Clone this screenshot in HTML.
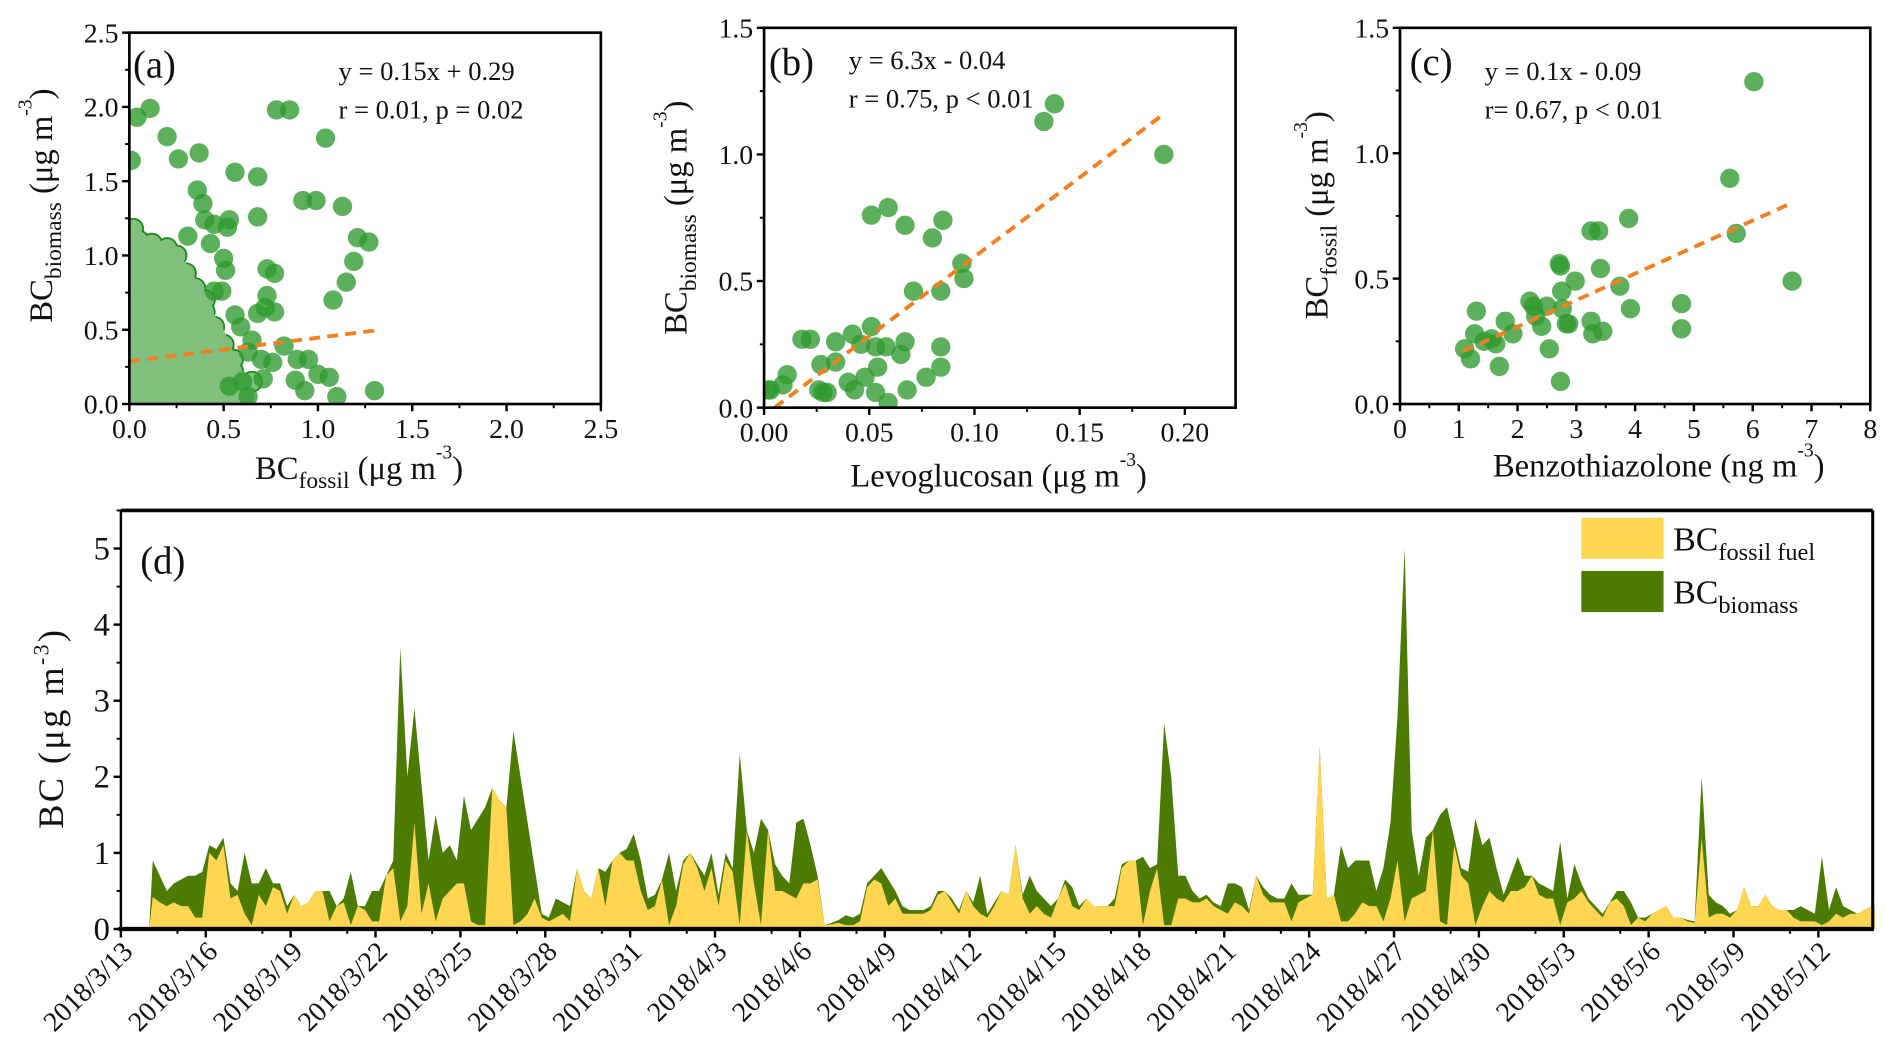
<!DOCTYPE html>
<html><head><meta charset="utf-8"><style>
html,body{margin:0;padding:0;background:#fff;}
svg, svg text{font-family:"Liberation Serif","Times New Roman",serif;}
</style></head><body>
<svg id="fig" width="1886" height="1056" viewBox="0 0 1560 873" preserveAspectRatio="none" font-family="Liberation Serif, serif" xmlns="http://www.w3.org/2000/svg"></svg>
<script>
// ---------- Panel (a) data ----------
const aX = [0.04,0.11,0.01,0.2,0.26,0.37,0.36,0.39,0.4,0.45,0.53,0.52,0.56,0.68,0.68,0.78,0.85,1.04,0.92,0.99,1.13,1.21,1.27,1.19,1.15,1.08,0.31,0.43,0.5,0.51,0.45,0.49,0.73,0.77,0.73,0.68,0.72,0.77,0.56,0.59,0.65,0.63,0.82,0.7,0.76,0.89,0.95,1.0,1.06,1.1,1.3,0.71,0.88,0.93,0.6,0.53,0.63];
const aY = [1.93,1.99,1.64,1.8,1.65,1.69,1.44,1.35,1.24,1.21,1.24,1.19,1.56,1.53,1.26,1.98,1.98,1.79,1.37,1.37,1.33,1.12,1.09,0.96,0.82,0.7,1.13,1.08,0.98,0.9,0.76,0.76,0.91,0.88,0.73,0.61,0.65,0.62,0.6,0.52,0.43,0.35,0.39,0.3,0.28,0.3,0.3,0.2,0.18,0.05,0.09,0.17,0.16,0.09,0.15,0.12,0.05];
const aBlobX = [0.02,0.05,0.12,0.2,0.25,0.02,0.1,0.18,0.3,0.05,0.15,0.25,0.35,0.02,0.12,0.22,0.32,0.4,0.05,0.15,0.25,0.35,0.45,0.02,0.12,0.22,0.32,0.42,0.5,0.05,0.15,0.25,0.35,0.45,0.55,0.02,0.12,0.22,0.32,0.42,0.52,0.6,0.48,0.1,0.3,0.08,0.28,0.38,0.18,0.4,0.55,0.65];
const aBlobY = [1.18,1.1,1.08,1.05,1.0,0.95,0.95,0.92,0.88,0.8,0.8,0.8,0.78,0.65,0.68,0.66,0.68,0.62,0.5,0.52,0.55,0.5,0.52,0.35,0.38,0.4,0.36,0.38,0.4,0.2,0.22,0.2,0.22,0.2,0.22,0.05,0.06,0.05,0.06,0.05,0.05,0.05,0.3,1.0,0.6,0.6,0.28,0.12,0.14,0.7,0.3,0.15];
const aBlobOutlineX = [0,0.05,0.2,0.3,0.36,0.45,0.5,0.56,0.6,0.66,0.66,0];
const aBlobOutlineY = [1.18,1.12,1.06,0.95,0.82,0.6,0.5,0.32,0.22,0.12,0,0];
const aFitX = [0, 1.31];
const aFitY = [0.287, 0.496];
const aTicks = ["0.0","0.5","1.0","1.5","2.0","2.5"];
// ---------- Panel (b) data ----------
const bX = [0.002,0.003,0.009,0.011,0.018,0.022,0.027,0.026,0.028,0.03,0.034,0.034,0.04,0.043,0.042,0.046,0.048,0.051,0.053,0.054,0.053,0.058,0.059,0.065,0.067,0.068,0.077,0.084,0.084,0.051,0.059,0.067,0.08,0.085,0.071,0.084,0.094,0.095,0.133,0.138,0.19];
const bY = [0.07,0.07,0.09,0.13,0.27,0.27,0.17,0.07,0.06,0.06,0.26,0.18,0.1,0.07,0.29,0.25,0.12,0.32,0.24,0.16,0.06,0.24,0.02,0.21,0.26,0.07,0.12,0.16,0.24,0.76,0.79,0.72,0.67,0.74,0.46,0.46,0.57,0.51,1.13,1.2,1.0];
const bFitX = [0.005, 0.19];
const bFitY = [0.0, 1.16];
const bXTicks = ["0.00","0.05","0.10","0.15","0.20"];
const bYTicks = ["0.0","0.5","1.0","1.5"];
// ---------- Panel (c) data ----------
const cX = [6.02,5.61,3.89,5.72,6.67,4.79,4.79,3.25,3.38,2.71,2.73,3.41,2.98,3.74,2.75,3.92,2.21,2.27,2.5,2.76,2.83,2.87,3.25,3.28,3.45,2.41,2.31,2.54,2.73,1.79,1.92,1.69,1.63,1.43,1.3,1.27,1.1,1.2,1.56];
const cY = [1.285,0.9,0.74,0.68,0.49,0.4,0.3,0.69,0.69,0.56,0.55,0.54,0.49,0.47,0.45,0.38,0.41,0.39,0.39,0.38,0.32,0.32,0.33,0.28,0.29,0.31,0.35,0.22,0.09,0.33,0.28,0.15,0.24,0.25,0.37,0.28,0.22,0.18,0.26];
const cFitX = [1.07, 6.6];
const cFitY = [0.21, 0.795];
const cXTicks = ["0","1","2","3","4","5","6","7","8"];
const cYTicks = ["0.0","0.5","1.0","1.5"];
// ---------- Panel (d) data: 6-hourly values from 2018/3/14 ----------
const totalBC = [
0.9,0.7,0.5,0.6, 0.65,0.7,0.7,0.75, 1.1,1.05,1.2,0.6, 0.5,1.0,0.6,0.6, 0.8,0.6,0.6,0.3, 0.45,0.3,0.35,0.5,
0.5,0.5,0.3,0.4, 0.75,0.3,0.3,0.5, 0.5,0.7,0.9,3.7, 2.0,2.9,1.9,0.9, 1.5,1.0,1.1,0.9, 1.75,1.3,1.45,1.6,
1.85,1.7,1.6,2.6, 2.0,1.4,0.8,0.2, 0.15,0.4,0.35,0.3, 0.8,0.5,0.4,0.8, 0.75,0.9,1.0,1.05, 1.25,0.9,0.4,0.45,
0.65,1.0,0.5,0.9, 1.0,0.85,0.7,1.0, 0.45,1.0,0.8,2.3, 1.3,1.0,1.45,1.3, 0.85,0.7,0.6,1.4, 1.45,1.1,0.7,0.05,
0.08,0.12,0.18,0.15, 0.2,0.6,0.7,0.8, 0.65,0.5,0.3,0.25, 0.25,0.25,0.3,0.5, 0.5,0.4,0.25,0.5, 0.35,0.7,0.2,0.35,
0.5,0.45,1.1,0.45, 0.7,0.5,0.4,0.3, 0.4,0.65,0.55,0.3, 0.4,0.3,0.3,0.3, 0.4,0.85,0.9,0.9, 0.95,0.8,0.85,2.7,
2.0,0.7,0.7,0.5, 0.4,0.45,0.35,0.3, 0.6,0.6,0.55,0.25, 0.7,0.55,0.45,0.4, 0.4,0.6,0.45,0.45, 0.45,2.4,0.4,0.45,
1.1,0.8,0.9,0.9, 0.9,0.5,0.8,1.4, 2.8,5.0,1.3,0.7, 1.2,1.3,1.5,1.6, 1.2,0.8,0.75,1.45, 1.1,1.2,0.8,0.45,
0.7,0.95,0.7,0.7, 0.6,0.55,0.5,1.15, 0.4,0.85,0.6,0.4, 0.3,0.2,0.35,0.5, 0.5,0.35,0.15,0.15, 0.2,0.25,0.3,0.15,
0.15,0.12,0.1,2.0, 0.45,0.35,0.3,0.2, 0.25,0.55,0.3,0.3, 0.45,0.3,0.25,0.25, 0.25,0.3,0.25,0.2, 0.95,0.25,0.55,0.3,
0.25,0.2,0.25,0.3];
const fossilBC = [
0.42,0.35,0.3,0.35, 0.3,0.3,0.15,0.15, 1.0,0.9,1.1,0.4, 0.45,0.2,0.05,0.45, 0.3,0.55,0.5,0.2, 0.45,0.3,0.35,0.5,
0.5,0.1,0.3,0.35, 0.05,0.3,0.25,0.1, 0.1,0.7,0.8,0.1, 0.3,1.4,0.2,0.6, 0.1,0.4,0.5,0.6, 0.6,0.1,0.05,0.05,
1.85,1.7,1.6,0.05, 0.1,0.2,0.4,0.15, 0.1,0.15,0.2,0.1, 0.8,0.5,0.4,0.8, 0.3,0.9,1.0,0.9, 0.9,0.5,0.25,0.3,
0.65,0.05,0.3,0.85, 1.0,0.8,0.5,0.8, 0.3,0.9,0.75,0.05, 1.3,0.6,0.05,1.3, 0.5,0.5,0.45,0.4, 0.6,0.6,0.65,0.05,
0.06,0.08,0.05,0.05, 0.1,0.55,0.65,0.6, 0.3,0.4,0.2,0.2, 0.2,0.2,0.25,0.45, 0.5,0.35,0.2,0.5, 0.3,0.2,0.15,0.3,
0.5,0.45,1.1,0.4, 0.2,0.3,0.2,0.15, 0.4,0.6,0.3,0.25, 0.4,0.3,0.3,0.3, 0.3,0.8,0.9,0.9, 0.05,0.5,0.8,0.05,
0.05,0.4,0.4,0.35, 0.35,0.4,0.3,0.25, 0.2,0.35,0.3,0.2, 0.7,0.45,0.35,0.35, 0.35,0.1,0.35,0.4, 0.45,2.4,0.4,0.45,
0.1,0.1,0.2,0.35, 0.3,0.3,0.1,0.4, 0.9,0.1,0.4,0.45, 0.5,1.3,0.1,0.05, 1.1,0.7,0.6,0.05, 0.3,0.5,0.4,0.35,
0.5,0.5,0.55,0.7, 0.45,0.4,0.4,0.05, 0.35,0.4,0.5,0.35, 0.25,0.15,0.35,0.4, 0.3,0.05,0.15,0.1, 0.2,0.25,0.3,0.15,
0.15,0.1,0.08,1.2, 0.15,0.2,0.2,0.15, 0.25,0.55,0.3,0.3, 0.45,0.3,0.25,0.25, 0.15,0.1,0.1,0.1, 0.05,0.1,0.2,0.15,
0.2,0.2,0.25,0.3];
const dDateLabels = ["2018/3/13","2018/3/16","2018/3/19","2018/3/22","2018/3/25","2018/3/28","2018/3/31","2018/4/3","2018/4/6","2018/4/9","2018/4/12","2018/4/15","2018/4/18","2018/4/21","2018/4/24","2018/4/27","2018/4/30","2018/5/3","2018/5/6","2018/5/9","2018/5/12"];
const dYTicks = ["0","1","2","3","4","5"];

const NS = "http://www.w3.org/2000/svg";
const FONT = "Liberation Serif, Times New Roman, serif";
const svg = document.getElementById('fig');
function mk(tag, attrs, parent) {
  const e = document.createElementNS(NS, tag);
  for (const k in attrs) e.setAttribute(k, attrs[k]);
  (parent || svg).appendChild(e);
  return e;
}
function lin(d0, d1, r0, r1) { return v => r0 + (v - d0) / (d1 - d0) * (r1 - r0); }
const GREEN = "#2e9a2e";
const ORANGE = "#f47f20";

function frame(g, x0, y0, x1, y1, w) {
  const r = mk('rect', {x:x0, y:y0, width:x1-x0, height:y1-y0, fill:'none', stroke:'#000', 'stroke-width':w||2.2}, g);
  
  
}
function label(g, x, y, txt, size, anchor, name) {
  const t = mk('text', {x:x, y:y, 'font-size':size, 'font-family':FONT, 'text-anchor':anchor||'middle', fill:'#111'}, g);
  t.textContent = txt;
  
  
  return t;
}
function richLabel(g, x, y, size, parts, rot, name) {
  const t = mk('text', {x:x, y:y, 'font-size':size, 'font-family':FONT, 'text-anchor':'middle', fill:'#111'}, g);
  if (rot) t.setAttribute('transform', 'rotate(-90 ' + x + ' ' + y + ')');
  
  
  parts.forEach(p => {
    const s = mk('tspan', {}, t);
    s.textContent = p[0];
    if (p[1] === 'sub') { s.setAttribute('font-size', size*0.72); s.setAttribute('dy', size*0.28); }
    else if (p[1] === 'sup') { s.setAttribute('font-size', size*0.6); s.setAttribute('dy', -size*0.62); }
    else if (p[1] === 'back-sub') { s.setAttribute('dy', -size*0.28); }
    else if (p[1] === 'back-sup') { s.setAttribute('dy', size*0.62); }
  });
  return t;
}
function scatterPanel(opt) {
  const g = mk('g', {});
  
  
  const sx = lin(opt.xd[0], opt.xd[1], opt.x0, opt.x1);
  const sy = lin(opt.yd[0], opt.yd[1], opt.y0, opt.y1);
  const cp = 'clip-' + opt.name;
  const cl = mk('clipPath', {id: cp}, g);
  mk('rect', {x:opt.x0, y:opt.y1, width:opt.x1-opt.x0, height:opt.y0-opt.y1}, cl);
  const pg = mk('g', {'clip-path':'url(#' + cp + ')'}, g);
  if (opt.blobX) {
    opt.blobX.forEach((v, i) => {
      const c = mk('circle', {cx:sx(v), cy:sy(opt.blobY[i]), r:9, fill:'#1a8a1a'}, pg);
      
      
    });
    const pts = opt.blobOX.map((v, i) => sx(v) + ',' + sy(opt.blobOY[i])).join(' ');
    const poly = mk('polygon', {points:pts, fill:'#80c07c'}, pg);
    
    
    opt.blobX.forEach((v, i) => {
      const c = mk('circle', {cx:sx(v), cy:sy(opt.blobY[i]), r:7.5, fill:'#80c07c'}, pg);
      
      
    });
  }
  opt.px.forEach((v, i) => {
    const c = mk('circle', {cx:sx(v), cy:sy(opt.py[i]), r:8, fill:GREEN, 'fill-opacity':0.78}, pg);
    
    
  });
  const ln = mk('line', {x1:sx(opt.fx[0]), y1:sy(opt.fy[0]), x2:sx(opt.fx[1]), y2:sy(opt.fy[1]), stroke:ORANGE, 'stroke-width':3.2, 'stroke-dasharray':'9,6'}, pg);
  
  
  frame(g, opt.x0, opt.y1, opt.x1, opt.y0);
  opt.xt.forEach((t, i) => {
    const v = opt.xd[0] + i * opt.xstep;
    const x = sx(v);
    mk('line', {x1:x, y1:opt.y0, x2:x, y2:opt.y0+6, stroke:'#000', 'stroke-width':2}, g);
    if (i < opt.xt.length - 1) { const xm = sx(v + opt.xstep/2); mk('line', {x1:xm, y1:opt.y0, x2:xm, y2:opt.y0+3.5, stroke:'#000', 'stroke-width':1.6}, g); }
    label(g, x, opt.y0 + 28, t, 23, 'middle', 'x-tick-label');
  });
  opt.yt.forEach((t, i) => {
    const v = opt.yd[0] + i * opt.ystep;
    const y = sy(v);
    mk('line', {x1:opt.x0-6, y1:y, x2:opt.x0, y2:y, stroke:'#000', 'stroke-width':2}, g);
    if (i < opt.yt.length - 1) { const ym = sy(v + opt.ystep/2); mk('line', {x1:opt.x0-3.5, y1:ym, x2:opt.x0, y2:ym, stroke:'#000', 'stroke-width':1.6}, g); }
    label(g, opt.x0 - 9, y + 8, t, 23, 'end', 'y-tick-label');
  });
  label(g, opt.lx, opt.ly, opt.letter, 32, 'start', 'panel-label');
  label(g, opt.ex, opt.ey, opt.eq1, 22, 'start', 'equation-text');
  label(g, opt.ex, opt.ey + 32, opt.eq2, 22, 'start', 'stats-text');
  richLabel(g, opt.xlx, opt.xly, 27, opt.xlab, false, 'x-axis-title');
  richLabel(g, opt.ylx, opt.yly, 27, opt.ylab, true, 'y-axis-title');
}

scatterPanel({name:'panel-a', x0:107, x1:497, y0:334, y1:27, xd:[0,2.5], yd:[0,2.5], xstep:0.5, ystep:0.5,
  xt:aTicks, yt:aTicks, px:aX, py:aY, blobX:aBlobX, blobY:aBlobY, blobOX:aBlobOutlineX, blobOY:aBlobOutlineY, fx:aFitX, fy:aFitY,
  lx:110, ly:64, letter:'(a)', ex:280, ey:66, eq1:'y = 0.15x + 0.29', eq2:'r = 0.01, p = 0.02',
  xlx:297, xly:396, xlab:[['BC'],['fossil','sub'],[' (μg m','back-sub'],['-3','sup'],[')','back-sup']],
  ylx:43, yly:170, ylab:[['BC'],['biomass','sub'],[' (μg m','back-sub'],['-3','sup'],[')','back-sup']]});
scatterPanel({name:'panel-b', x0:632, x1:1022, y0:337, y1:23, xd:[0,0.2241], yd:[0,1.5], xstep:0.05, ystep:0.5,
  xt:bXTicks, yt:bYTicks, px:bX, py:bY, fx:bFitX, fy:bFitY,
  lx:636, ly:62, letter:'(b)', ex:702, ey:57, eq1:'y = 6.3x - 0.04', eq2:'r = 0.75, p < 0.01',
  xlx:826, xly:402, xlab:[['Levoglucosan (μg m'],['-3','sup'],[')','back-sup']],
  ylx:568, yly:180, ylab:[['BC'],['biomass','sub'],[' (μg m','back-sub'],['-3','sup'],[')','back-sup']]});
scatterPanel({name:'panel-c', x0:1158, x1:1547, y0:334, y1:23, xd:[0,8], yd:[0,1.5], xstep:1, ystep:0.5,
  xt:cXTicks, yt:cYTicks, px:cX, py:cY, fx:cFitX, fy:cFitY,
  lx:1166, ly:62, letter:'(c)', ex:1228, ey:66, eq1:'y = 0.1x - 0.09', eq2:'r= 0.67, p < 0.01',
  xlx:1372, xly:394, xlab:[['Benzothiazolone (ng m'],['-3','sup'],[')','back-sup']],
  ylx:1098, yly:178, ylab:[['BC'],['fossil','sub'],[' (μg m','back-sub'],['-3','sup'],[')','back-sup']]});

// ---------- Panel (d) ----------
(function(){
  const g = mk('g', {});
  
  
  const X0 = 100, X1 = 1549, Y0 = 768, Y1 = 422;
  const sx = lin(0, 61.92, X0, X1);
  const sy = lin(0, 5.5, Y0, Y1);
  const tOf = i => 1 + i / 4 + 0.125;
  const n = totalBC.length;
  let dT = 'M' + sx(tOf(0) - 0.125) + ',' + Y0;
  let dF = dT;
  for (let i = 0; i < n; i++) {
    dT += ' L' + sx(tOf(i)).toFixed(2) + ',' + sy(totalBC[i]).toFixed(2);
    dF += ' L' + sx(tOf(i)).toFixed(2) + ',' + sy(fossilBC[i]).toFixed(2);
  }
  const tEnd = sx(tOf(n - 1) + 0.125);
  dT += ' L' + tEnd + ',' + sy(totalBC[n-1]) + ' L' + tEnd + ',' + Y0 + ' Z';
  dF += ' L' + tEnd + ',' + sy(fossilBC[n-1]) + ' L' + tEnd + ',' + Y0 + ' Z';
  const aT = mk('path', {d:dT, fill:'#4b7b02'}, g);
  
  
  const aF = mk('path', {d:dF, fill:'#ffd651'}, g);
  
  
  mk('line', {x1:X0, y1:Y1, x2:X1, y2:Y1, stroke:'#000', 'stroke-width':3}, g);
  mk('line', {x1:X1, y1:Y1, x2:X1, y2:Y0, stroke:'#000', 'stroke-width':2.5}, g);
  mk('line', {x1:X0, y1:Y1, x2:X0, y2:Y0, stroke:'#000', 'stroke-width':2}, g);
  const xa = mk('line', {x1:X0-2, y1:Y0, x2:X1+1, y2:Y0, stroke:'#000', 'stroke-width':3.5}, g);
  
  
  dYTicks.forEach((t, i) => {
    const y = sy(i);
    mk('line', {x1:X0-6, y1:y, x2:X0, y2:y, stroke:'#000', 'stroke-width':2}, g);
    const ym = sy(i + 0.5);
    mk('line', {x1:X0-3.5, y1:ym, x2:X0, y2:ym, stroke:'#000', 'stroke-width':1.6}, g);
    label(g, X0 - 9, y + 9, t, 27, 'end', 'y-tick-label');
  });
  dDateLabels.forEach((t, i) => {
    const x = sx(i * 3);
    mk('line', {x1:x, y1:Y0, x2:x, y2:Y0+7, stroke:'#000', 'stroke-width':2}, g);
    const xm = sx(i * 3 + 2);
    if (xm < X1) mk('line', {x1:xm, y1:Y0, x2:xm, y2:Y0+4, stroke:'#000', 'stroke-width':1.6}, g);
    const tx = mk('text', {x:x + 11, y:Y0 + 20, 'font-size':23, 'font-family':FONT, 'text-anchor':'end', fill:'#111', transform:'rotate(-45 ' + (x + 11) + ' ' + (Y0 + 20) + ')'}, g);
    tx.textContent = t;
    
    
  });
  label(g, 116, 474, '(d)', 32, 'start', 'panel-label');
  const yt = mk('text', {x:52, y:602, 'font-size':30, 'font-family':FONT, 'text-anchor':'middle', 'letter-spacing':'2', fill:'#111', transform:'rotate(-90 52 602)'}, g);
  
  
  const s1 = mk('tspan', {}, yt); s1.textContent = 'BC (μg m';
  const s2 = mk('tspan', {'font-size':18, dy:-12}, yt); s2.textContent = '-3';
  const s3 = mk('tspan', {dy:12}, yt); s3.textContent = ')';
  const lg = mk('g', {}, g);
  
  
  const r1 = mk('rect', {x:1308, y:428, width:68, height:34, fill:'#ffd651'}, lg);
  
  
  const r2 = mk('rect', {x:1308, y:472, width:68, height:34, fill:'#4b7b02'}, lg);
  
  
  richLabel(lg, 1384, 455, 28, [['BC'],['fossil fuel','sub']], false, 'legend-entry-fossil-fuel').setAttribute('text-anchor','start');
  richLabel(lg, 1384, 499, 28, [['BC'],['biomass','sub']], false, 'legend-entry-biomass').setAttribute('text-anchor','start');
})();
</script>
</body></html>
